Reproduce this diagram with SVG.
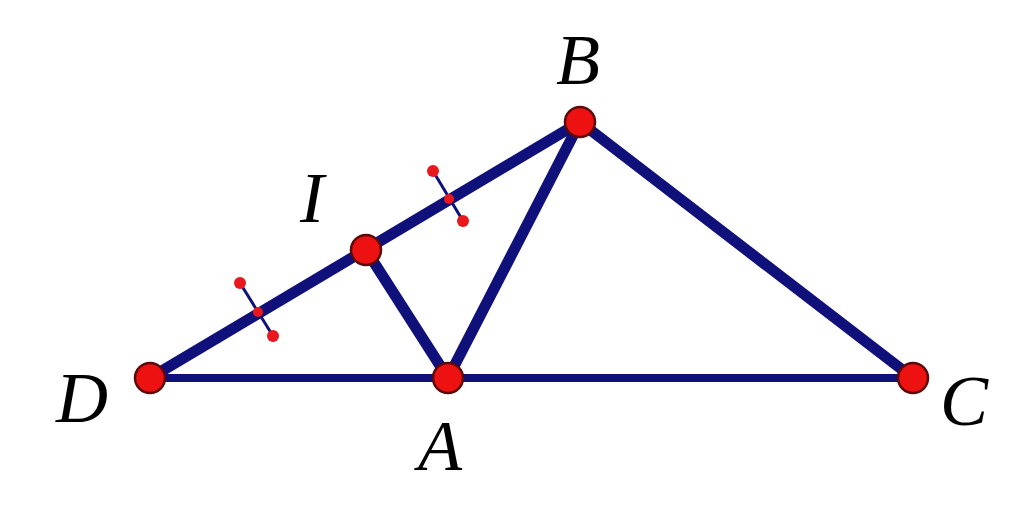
<svg xmlns="http://www.w3.org/2000/svg" width="1024" height="505" viewBox="0 0 1024 505">
<style>
.seg{stroke:#10107a;stroke-width:11;stroke-linecap:round;fill:none}
.base{stroke:#10107a;stroke-width:8;fill:none}
.tick{stroke:#10107a;stroke-width:3}
.td{fill:#e8181c}
.pt{fill:#ee1111;stroke:#5a0a0a;stroke-width:2.5}
.lbl{font-family:"Liberation Serif",serif;font-style:italic;font-size:72px;fill:#000}
</style>
<rect width="1024" height="505" fill="#fff"/>
<g id="connectors">
<line class="base" x1="150" y1="378" x2="913" y2="378"/>
<line class="seg" x1="150" y1="378" x2="580" y2="122"/>
<line class="seg" x1="580" y1="122" x2="448" y2="378"/>
<line class="seg" x1="580" y1="122" x2="913" y2="378"/>
<line class="seg" x1="366" y1="250" x2="448" y2="378"/>
<g id="tick1">
<line class="tick" x1="240" y1="283" x2="273" y2="336"/>
<circle class="td" cx="240" cy="283" r="6"/>
<circle class="td" cx="273" cy="336" r="6"/>
<circle class="td" cx="258" cy="312" r="5"/>
</g>
<g id="tick2">
<line class="tick" x1="433" y1="171" x2="463" y2="221"/>
<circle class="td" cx="433" cy="171" r="6"/>
<circle class="td" cx="463" cy="221" r="6"/>
<circle class="td" cx="449" cy="199" r="5"/>
</g>
</g>
<g id="B"><circle class="pt" cx="580" cy="122" r="15"/><text class="lbl" x="556" y="84">B</text></g>
<g id="I"><circle class="pt" cx="366" cy="250" r="15"/><text class="lbl" x="300" y="222">I</text></g>
<g id="D"><circle class="pt" cx="150" cy="378" r="15"/><text class="lbl" x="56" y="422">D</text></g>
<g id="A"><circle class="pt" cx="448" cy="378" r="15"/><text class="lbl" x="418" y="470">A</text></g>
<g id="C"><circle class="pt" cx="913" cy="378" r="15"/><text class="lbl" x="940" y="425">C</text></g>
</svg>
